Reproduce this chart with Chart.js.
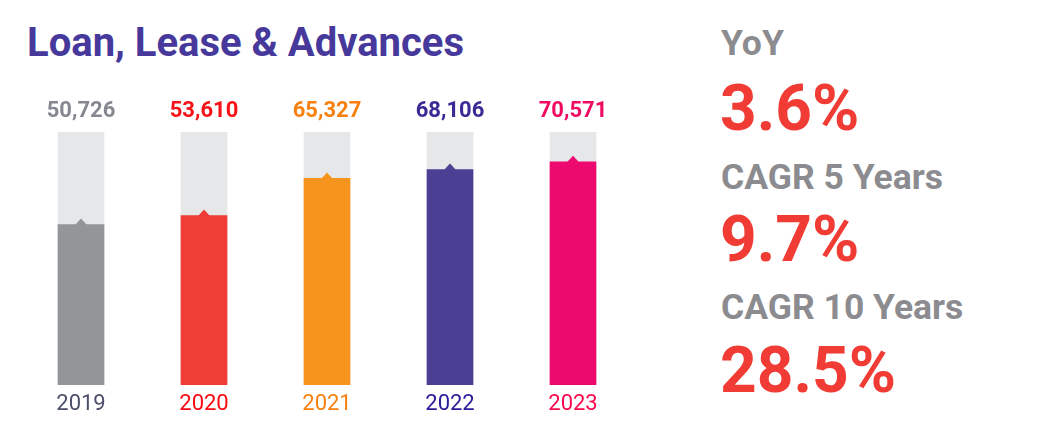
<!DOCTYPE html>
<html>
<head>
<meta charset="utf-8">
<script src="https://cdn.jsdelivr.net/npm/chart.js@4"></script>
<style>
  html, body { margin: 0; padding: 0; background: #ffffff; }
  body { width: 1041px; height: 437px; position: relative; overflow: hidden; font-family: Roboto, "Noto Sans", sans-serif; }
  #wrap { position: absolute; left: 0; top: 0; width: 660px; height: 437px; }
  .t { position: absolute; white-space: nowrap; line-height: 1; font-weight: 700; }
  #title { left: 27px; color: #46399b; font-size: 40px; top: 23px; }
  .lbl { left: 721px; color: #8c8c90; font-size: 35.5px; }
  .pct { left: 720px; color: #f03c34; font-size: 64px; }
</style>
</head>
<body>
<div id="title" class="t">Loan, Lease &amp; Advances</div>
<div id="wrap"><canvas id="c"></canvas></div>
<div class="t lbl" style="top:26px">YoY</div>
<div class="t pct" style="top:77px">3.6%</div>
<div class="t lbl" style="top:160px">CAGR 5 Years</div>
<div class="t pct" style="top:208px">9.7%</div>
<div class="t lbl" style="top:290px">CAGR 10 Years</div>
<div class="t pct" style="top:338.5px">28.5%</div>
<script>
const years = ['2019', '2020', '2021', '2022', '2023'];
const values = [50726, 53610, 65327, 68106, 70571];
const scaleMax = 80000;
const trackValues = [80000, 80000, 80000, 80000, 80000];
const barColors = ['#939598', '#ef3e36', '#f7941e', '#4b3f93', '#ec0a6e'];
const valueLabelColors = ['#858890', '#f81218', '#f7800f', '#3a2a96', '#f00a62'];
const yearLabelColors = ['#4b4f6b', '#fa0a14', '#f7800f', '#2a1c9a', '#fa0a4c'];

const labelPlugin = {
  id: 'labels',
  afterDatasetsDraw(chart) {
    const ctx = chart.ctx;
    const meta = chart.getDatasetMeta(1);
    const xScale = chart.scales.x;
    ctx.save();
    meta.data.forEach((bar, i) => {
      // notch
      ctx.fillStyle = barColors[i];
      ctx.beginPath();
      ctx.moveTo(bar.x - 6, bar.y + 0.5);
      ctx.lineTo(bar.x, bar.y - 6);
      ctx.lineTo(bar.x + 6, bar.y + 0.5);
      ctx.closePath();
      ctx.fill();
    });
    ctx.textAlign = 'center';
    ctx.textBaseline = 'alphabetic';
    years.forEach((y, i) => {
      const x = xScale.getPixelForValue(i);
      ctx.font = '700 22px Roboto';
      ctx.fillStyle = valueLabelColors[i];
      ctx.fillText(values[i].toLocaleString('en-US'), x, 117);
      ctx.font = '400 22px Roboto';
      ctx.fillStyle = yearLabelColors[i];
      ctx.fillText(y, x, 410);
    });
    ctx.restore();
  }
};

new Chart(document.getElementById('c'), {
  type: 'bar',
  data: {
    labels: years,
    datasets: [
      { data: trackValues, backgroundColor: '#e6e7e9', barThickness: 46, grouped: false, order: 2 },
      { data: values, backgroundColor: barColors, barThickness: 46, grouped: false, order: 1 }
    ]
  },
  options: {
    responsive: true,
    maintainAspectRatio: false,
    animation: false,
    layout: { padding: { left: 19.5, right: 25.5, top: 132, bottom: 52 } },
    plugins: { legend: { display: false }, tooltip: { enabled: false } },
    scales: {
      x: { display: false },
      y: { display: false, min: 0, max: scaleMax }
    }
  },
  plugins: [labelPlugin]
});
</script>
</body>
</html>
